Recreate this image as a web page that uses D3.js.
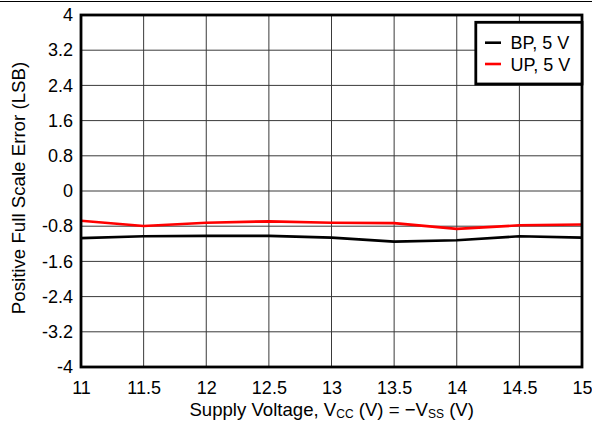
<!DOCTYPE html>
<html><head><meta charset="utf-8">
<script src="https://cdn.jsdelivr.net/npm/d3@7"></script>
<style>
html,body{margin:0;padding:0;background:#fff;}
svg{display:block;font-family:"Liberation Sans",Arial,sans-serif;}
</style></head>
<body>
<svg id="chart" width="592" height="423"></svg>
<script>
const supplyVoltage = [11, 11.5, 12, 12.5, 13, 13.5, 14, 14.5, 15];
const bp5V = [-1.07, -1.03, -1.02, -1.02, -1.06, -1.15, -1.12, -1.03, -1.06];
const up5V = [-0.675, -0.795, -0.72, -0.69, -0.72, -0.73, -0.86, -0.78, -0.76];
const xTicks = [11, 11.5, 12, 12.5, 13, 13.5, 14, 14.5, 15];
const yTicks = [4, 3.2, 2.4, 1.6, 0.8, 0, -0.8, -1.6, -2.4, -3.2, -4];
const seriesNames = ["BP, 5 V", "UP, 5 V"];
const seriesColors = ["#000000", "#ff0000"];

const svg = d3.select("#chart");
const L = 81, R = 582, T = 15, B = 367;
const x = d3.scaleLinear().domain([11, 15]).range([L, R]);
const y = d3.scaleLinear().domain([-4, 4]).range([B, T]);

// top border line
svg.append("line").attr("x1", 0).attr("x2", 592).attr("y1", 1.5).attr("y2", 1.5)
  .attr("stroke", "#000").attr("stroke-width", 1);

// grid
const grid = svg.append("g");
grid.selectAll(".vg").data(xTicks).enter().append("line")
  .attr("x1", d => x(d)).attr("x2", d => x(d)).attr("y1", T).attr("y2", B)
  .attr("stroke", "#3a3a3a").attr("stroke-width", 1);
grid.selectAll(".hg").data(yTicks).enter().append("line")
  .attr("x1", L).attr("x2", R).attr("y1", d => y(d)).attr("y2", d => y(d))
  .attr("stroke", "#3a3a3a").attr("stroke-width", 1);

// axes labels via d3 axes
const yAxis = d3.axisLeft(y).tickValues(yTicks).tickSize(0).tickPadding(8)
  .tickFormat(d => String(d));
const gy = svg.append("g").attr("transform", `translate(${L},0)`).call(yAxis);
gy.select(".domain").remove();
gy.selectAll("text").attr("font-size", 18).attr("fill", "#000")
  .attr("font-family", "Liberation Sans, Arial, sans-serif");

const xAxis = d3.axisBottom(x).tickValues(xTicks).tickSize(0).tickPadding(14.5)
  .tickFormat(d => String(d));
const gx = svg.append("g").attr("transform", `translate(0,${B})`).call(xAxis);
gx.select(".domain").remove();
gx.selectAll("text").attr("font-size", 18).attr("fill", "#000")
  .attr("font-family", "Liberation Sans, Arial, sans-serif");

// clip
svg.append("clipPath").attr("id", "clip").append("rect")
  .attr("x", L).attr("y", T).attr("width", R - L).attr("height", B - T);

const line = d3.line().x((d, i) => x(supplyVoltage[i])).y(d => y(d));
const series = [bp5V, up5V];
svg.append("g").attr("clip-path", "url(#clip)").selectAll("path").data(series).enter()
  .append("path").attr("d", d => line(d)).attr("fill", "none")
  .attr("stroke", (d, i) => seriesColors[i]).attr("stroke-width", 2.6)
  .attr("stroke-linejoin", "round");

// frame
svg.append("rect").attr("x", L).attr("y", T).attr("width", R - L).attr("height", B - T)
  .attr("fill", "none").attr("stroke", "#000").attr("stroke-width", 2.8);

// legend
const lg = svg.append("g");
lg.append("rect").attr("x", 475.8).attr("y", 22.3).attr("width", R - 475.8).attr("height", 61.7)
  .attr("fill", "#fff").attr("stroke", "#000").attr("stroke-width", 2.8);
seriesNames.forEach((n, i) => {
  const yy = 42.7 + i * 21.3;
  lg.append("line").attr("x1", 485).attr("x2", 501).attr("y1", yy).attr("y2", yy)
    .attr("stroke", seriesColors[i]).attr("stroke-width", 2.6);
  lg.append("text").attr("x", 510.5).attr("y", yy + 6.6).attr("font-size", 18)
    .attr("fill", "#000").text(n);
});

// x title
const xt = svg.append("text").attr("x", 331.7).attr("y", 415.5).attr("text-anchor", "middle")
  .attr("font-size", 18.6).attr("fill", "#000");
xt.append("tspan").text("Supply Voltage, V");
xt.append("tspan").attr("font-size", 12).attr("dy", 2).text("CC");
xt.append("tspan").attr("dy", -2).text(" (V) = \u2212V");
xt.append("tspan").attr("font-size", 12).attr("dy", 2).text("SS");
xt.append("tspan").attr("dy", -2).text(" (V)");

// y title
svg.append("text").attr("transform", "translate(25,188) rotate(-90)")
  .attr("text-anchor", "middle").attr("font-size", 18.7).attr("fill", "#000")
  .text("Positive Full Scale Error (LSB)");
</script>
</body></html>
